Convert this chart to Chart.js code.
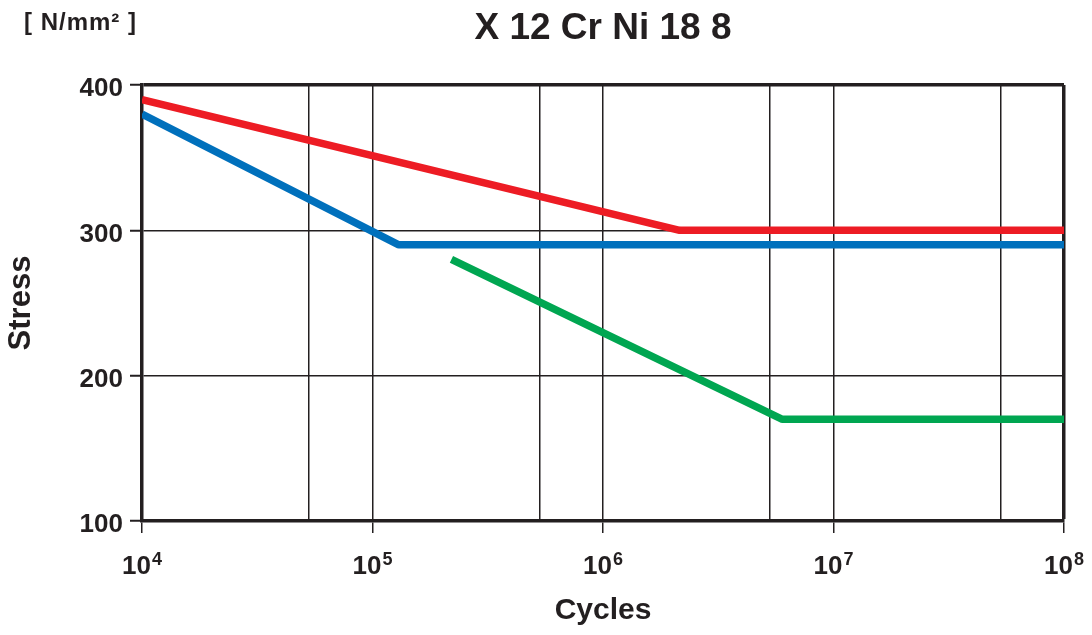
<!DOCTYPE html>
<html>
<head>
<meta charset="utf-8">
<script src="https://cdn.jsdelivr.net/npm/chart.js@4.4.1/dist/chart.umd.min.js"></script>
<style>
html, body { margin: 0; padding: 0; background: #fff; }
canvas { display: block; }
</style>
</head>
<body>
<canvas id="chart" width="1092" height="635"></canvas>
<script>
const chartTitle = 'X 12 Cr Ni 18 8'
const unitLabel = '[ N/mm² ]'
const xTitle = 'Cycles'
const yTitle = 'Stress'

// x axis: labelled decades and the extra vertical grid lines
const decades = [1e4, 1e5, 1e6, 1e7, 1e8]
const gridCycles = [1e4, 5.3e4, 1e5, 5.3e5, 1e6, 5.3e6, 1e7, 5.3e7, 1e8]
const stressTicks = [100, 200, 300, 400]

// curves
const redCycles = [1e4, 2.15e6, 1e8]
const redStress = [390, 300, 300]
const blueCycles = [1e4, 1.3e5, 1e8]
const blueStress = [380, 290, 290]
const greenCycles = [2.2e5, 6.0e6, 1e8]
const greenStress = [280, 170, 170]

const ink = '#231f20'
const fam = '"Liberation Sans", Arial, Helvetica, sans-serif'

const pts = (xs, ys) => xs.map((x, i) => ({ x: x, y: ys[i] }))

const textPlugin = {
    id: 'texts',
    afterDraw(chart) {
        const ctx = chart.ctx
        const xs = chart.scales.x
        const area = chart.chartArea
        ctx.save()
        ctx.fillStyle = ink
        ctx.textBaseline = 'alphabetic'
        ctx.textAlign = 'left'
        // 10^n labels
        decades.forEach(v => {
            const px = xs.getPixelForValue(v)
            const exp = String(Math.round(Math.log10(v)))
            ctx.font = 'bold 26px ' + fam
            const w1 = ctx.measureText('10').width
            ctx.font = 'bold 18px ' + fam
            const w2 = ctx.measureText(exp).width
            const left = px - (w1 + w2 + 1) / 2
            ctx.font = 'bold 26px ' + fam
            ctx.fillText('10', left, 574)
            ctx.font = 'bold 18px ' + fam
            ctx.fillText(exp, left + w1 + 1, 565)
        })
        // title
        ctx.textAlign = 'center'
        ctx.font = 'bold 37px ' + fam
        ctx.fillText(chartTitle, (area.left + area.right) / 2, 39)
        // unit
        ctx.textAlign = 'left'
        ctx.font = 'bold 24px ' + fam
        ctx.letterSpacing = '1px'
        ctx.fillText(unitLabel, 24, 30)
        ctx.restore()
    }
}

new Chart(document.getElementById('chart'), {
    type: 'line',
    data: {
        datasets: [
            { data: pts(redCycles, redStress), borderColor: '#ed1c24' },
            { data: pts(blueCycles, blueStress), borderColor: '#0070bc' },
            { data: pts(greenCycles, greenStress), borderColor: '#00a651' }
        ]
    },
    options: {
        responsive: false,
        animation: false,
        layout: { padding: { top: 85, right: 28, left: 0, bottom: 0 } },
        elements: {
            point: { radius: 0 },
            line: { borderWidth: 7.5, tension: 0, borderCapStyle: 'butt', borderJoinStyle: 'bevel', fill: false }
        },
        plugins: { legend: { display: false }, tooltip: { enabled: false }, title: { display: false } },
        scales: {
            x: {
                type: 'logarithmic',
                min: 1e4,
                max: 1e8,
                afterBuildTicks: s => { s.ticks = gridCycles.map(v => ({ value: v })) },
                afterFit: s => { s.height = 114 },
                ticks: { display: false },
                grid: {
                    color: ink,
                    lineWidth: c => (c.tick && c.tick.value === 1e8 ? 3.5 : 1.5),
                    tickLength: 12,
                    tickWidth: 1.5,
                    tickColor: c => (c.tick && decades.includes(c.tick.value) ? ink : 'rgba(0,0,0,0)')
                },
                border: { display: true, color: ink, width: 3.5 },
                title: {
                    display: true, text: xTitle, color: ink,
                    font: { family: fam, size: 30, weight: 'bold' },
                    padding: { top: 0, bottom: 6 }
                }
            },
            y: {
                min: 100,
                max: 400,
                afterBuildTicks: s => { s.ticks = stressTicks.map(v => ({ value: v })) },
                afterFit: s => { s.width = 142 },
                ticks: { color: ink, padding: 7, labelOffset: 4, font: { family: fam, size: 26, weight: 'bold' } },
                grid: {
                    color: ink,
                    lineWidth: c => (c.tick && c.tick.value === 400 ? 3.5 : 1.5),
                    tickLength: 12,
                    tickWidth: 2,
                    tickColor: ink
                },
                border: { display: true, color: ink, width: 3.5 },
                title: {
                    display: true, text: yTitle, color: ink,
                    font: { family: fam, size: 31, weight: 'bold' },
                    padding: { top: 3, bottom: 0 }
                }
            }
        }
    },
    plugins: [textPlugin]
})
</script>
</body>
</html>
